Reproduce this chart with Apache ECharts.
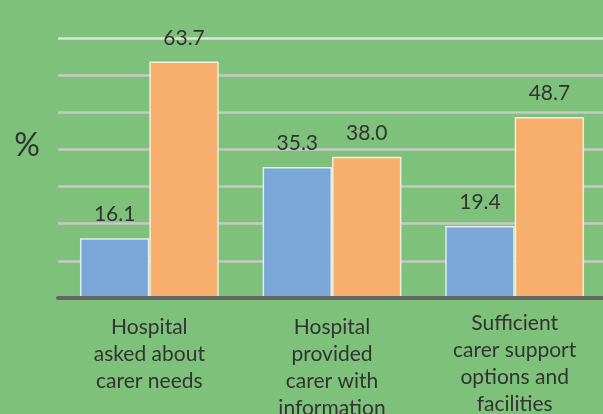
<!DOCTYPE html>
<html>
<head>
<meta charset="utf-8">
<script src="https://cdn.jsdelivr.net/npm/echarts@6/dist/echarts.min.js"></script>
<style>
html,body{margin:0;padding:0;background:#7dc17a;overflow:hidden;}
#c{width:603px;height:414px;}
</style>
</head>
<body>
<div id="c"></div>
<script>
const categories = [
  "Hospital\nasked about\ncarer needs",
  "Hospital\nprovided\ncarer with\ninformation",
  "Sufficient\ncarer support\noptions and\nfacilities"
];
const seriesA = [16.1, 35.3, 19.4];
const seriesB = [63.7, 38.0, 48.7];
const yAxisName = "%";

const el = document.getElementById('c');
const chart = echarts.init(el, null, {renderer: 'canvas', width: 603, height: 414});
const font = 'Lato, "Open Sans", sans-serif';
const labelStyle = {
  show: true, position: 'top', distance: 13,
  color: '#333', fontSize: 21, fontFamily: font,
  formatter: p => p.value.toFixed(1)
};
chart.setOption({
  backgroundColor: '#7dc17a',
  animation: false,
  grid: {left: 58, right: -3, top: 38, bottom: 116, containLabel: false, outerBoundsMode: 'none'},
  graphic: [{
    type: 'text', x: 27, y: 146,
    style: {text: yAxisName, fill: '#333', fontSize: 32, fontFamily: font, align: 'center', verticalAlign: 'middle'}
  }],
  xAxis: {
    type: 'category',
    data: categories.map((c, i) => i === 2 ? {value: c, textStyle: {padding: [-4, 0, 0, 0]}} : c),
    axisLine: {show: true, lineStyle: {color: '#666', width: 4}},
    axisTick: {show: false},
    axisLabel: {
      interval: 0, margin: 16, color: '#333', fontSize: 21,
      fontFamily: font, lineHeight: 27, align: 'center'
    },
    z: 5
  },
  yAxis: {
    type: 'value', min: 0, max: 70, interval: 10,
    axisLine: {show: false}, axisTick: {show: false}, axisLabel: {show: false},
    splitLine: {show: true, lineStyle: {color: ['#c8c8c8','#c8c8c8','#c8c8c8','#c8c8c8','#c8c8c8','#c8c8c8','#c8c8c8','#e2e2e2'], width: 2.5}}
  },
  series: [
    {
      type: 'bar', data: seriesA, barGap: '0%', barCategoryGap: '24%',
      itemStyle: {color: '#7aa7d8', borderColor: 'rgba(235,245,235,0.9)', borderWidth: 1.5},
      label: labelStyle
    },
    {
      type: 'bar', data: seriesB,
      itemStyle: {color: '#f8af6d', borderColor: 'rgba(245,245,230,0.9)', borderWidth: 1.5},
      label: labelStyle
    }
  ]
});
</script>
</body>
</html>
